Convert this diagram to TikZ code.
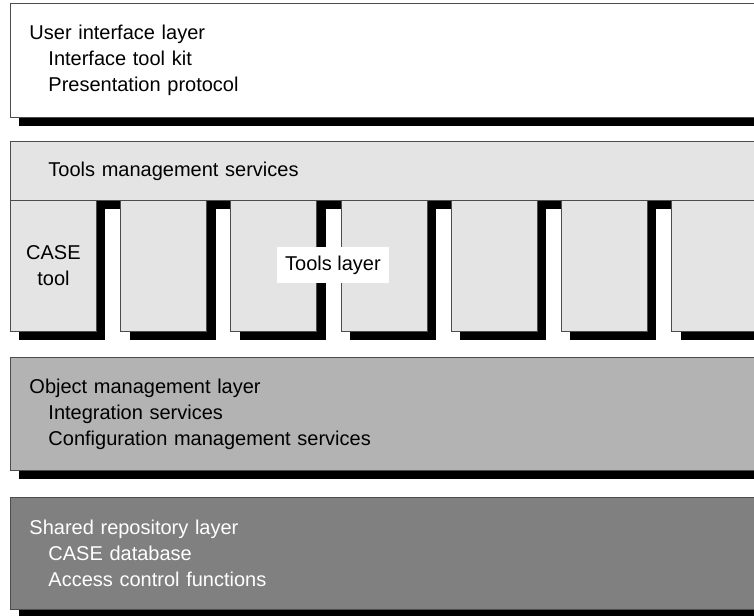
\documentclass[tikz,border=0pt]{standalone}
\usepackage{fontspec}
\setmainfont{Liberation Sans}
\usetikzlibrary{shadows}
\definecolor{tmgrey}{HTML}{E4E4E4}
\definecolor{omgrey}{HTML}{B3B3B3}
\definecolor{srgrey}{HTML}{808080}
\newcommand{\ind}{\hspace*{19pt}}

\begin{document}
\begin{tikzpicture}[
  x=1pt, y=-1pt,
  font=\fontsize{20}{26}\selectfont,
  shd/.style = {drop shadow={shadow xshift=9pt, shadow yshift=-9pt, fill=black, opacity=1}},
  lyr/.style = {draw=black!70, line width=0.9pt, shd, anchor=north west, align=left,
                minimum width=760pt, text width=722pt, inner xsep=19pt, inner ysep=0pt},
  tbx/.style = {draw=black!70, line width=0.9pt, shd, fill=tmgrey, anchor=north west,
                minimum width=86pt, minimum height=131pt, align=center, inner sep=0pt}
]
\useasboundingbox (0,0) rectangle (754,615);
\clip (0,0) rectangle (754,615);

% ---------- user interface -----------------------------------------
\node[lyr, fill=white, minimum height=114pt] (ui) at (10,3)
  {User interface layer\\\ind Interface tool kit\\\ind Presentation protocol};

% ---------- tools band and tool boxes ------------------------------
\node[lyr, fill=tmgrey, minimum height=59pt] (tms) at (10,141)
  {\ind Tools management services};
\node[tbx] (tool1) at (10,200) {CASE\\tool};
\foreach \i in {2,...,7}{\node[tbx] (tool\i) at ({10+110.2*(\i-1)},200) {};}
\node[fill=white, inner xsep=8pt, inner ysep=9pt] (tlbl) at (333,265) {Tools layer};

% ---------- object management --------------------------------------
\node[lyr, fill=omgrey, minimum height=113pt] (om) at (10,357)
  {Object management layer\\\ind Integration services\\\ind Configuration management services};

% ---------- shared repository --------------------------------------
\node[lyr, fill=srgrey, text=white, minimum height=112pt] (sr) at (10,497)
  {Shared repository layer\\\ind CASE database\\\ind Access control functions};

\end{tikzpicture}
\end{document}
